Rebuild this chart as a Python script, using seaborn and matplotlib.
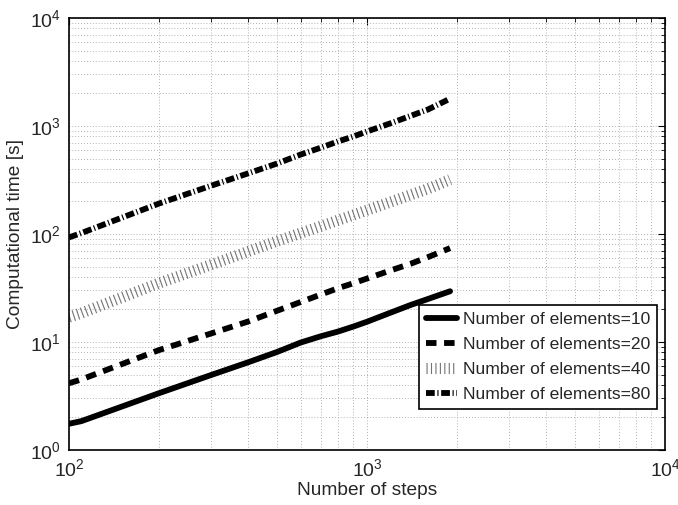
import numpy as np
import pandas as pd
import matplotlib
matplotlib.use("Agg")
import matplotlib.pyplot as plt
import seaborn as sns
from matplotlib.ticker import LogLocator, NullFormatter

steps = [100, 110, 200, 300, 400, 500, 600, 700, 800, 900, 1000, 1200, 1400, 1600, 1900]
time_10 = [1.75, 1.85, 3.35, 4.95, 6.5, 8.1, 9.9, 11.3, 12.5, 13.9, 15.4, 18.7, 22.0, 25.0, 29.5]
time_20 = [4.15, 4.5, 8.4, 12.0, 15.5, 19.5, 23.5, 27.5, 31.5, 35.0, 38.7, 46, 53, 61, 74]
time_40 = [17, 18.5, 35, 52, 69, 86, 102, 118, 134, 150, 166, 198, 230, 262, 318]
time_80 = [93, 102, 191, 280, 365, 450, 545, 630, 720, 800, 890, 1060, 1240, 1420, 1790]
labels = ["Number of elements=10", "Number of elements=20",
          "Number of elements=40", "Number of elements=80"]

sns.set_theme(style="white")
plt.rcParams["font.family"] = ["Liberation Sans", "DejaVu Sans"]
plt.rcParams["mathtext.fontset"] = "custom"
plt.rcParams["mathtext.rm"] = "Liberation Sans"
plt.rcParams["mathtext.it"] = "Liberation Sans"

fig = plt.figure(figsize=(6.78, 5.05), dpi=100)
ax = fig.add_axes([69/678, 55/505, 596/678, 432/505])

styles = [
    dict(color="black", lw=4.2, ls="-"),
    dict(color="black", lw=4.2, ls=(0, (1.8, 1.3))),
    dict(color="0.45", lw=8.0, ls=(0, (0.1, 0.3))),
    dict(color="black", lw=4.2, ls=(0, (1.5, 0.45, 0.2, 0.45))),
]
series = [time_10, time_20, time_40, time_80]
for vals, lab, st in zip(series, labels, styles):
    df = pd.DataFrame({"steps": steps, "time": vals})
    sns.lineplot(data=df, x="steps", y="time", ax=ax, label=lab,
                 color=st["color"], linewidth=st["lw"], linestyle=st["ls"])

ax.set_xscale("log")
ax.set_yscale("log")
ax.set_xlim(100, 10000)
ax.set_ylim(1, 10000)
ax.xaxis.set_minor_locator(LogLocator(base=10, subs=np.arange(2, 10)))
ax.yaxis.set_minor_locator(LogLocator(base=10, subs=np.arange(2, 10)))
ax.xaxis.set_minor_formatter(NullFormatter())
ax.yaxis.set_minor_formatter(NullFormatter())

ax.grid(True, which="both", color="0.6", linestyle=(0, (1, 2.5)), linewidth=0.6)
ax.tick_params(which="both", direction="in", top=True, right=True, color="black")
ax.tick_params(which="major", length=5, width=0.8, labelsize=14, pad=6)
ax.tick_params(which="minor", length=3, width=0.6)
for sp in ax.spines.values():
    sp.set_color("black")
    sp.set_linewidth(1.2)

ax.set_xlabel("Number of steps", fontsize=13.8, labelpad=1)
ax.set_ylabel("Computational time [s]", fontsize=13.8, labelpad=4)

leg = ax.legend(loc="lower right", bbox_to_anchor=(0.987, 0.095), borderaxespad=0,
                fontsize=12.6, frameon=True, fancybox=False, framealpha=1,
                edgecolor="black", handlelength=1.75, labelspacing=0.55,
                borderpad=0.4, handletextpad=0.35)
leg.get_frame().set_linewidth(1.2)

fig.savefig("out.png", dpi=100)
